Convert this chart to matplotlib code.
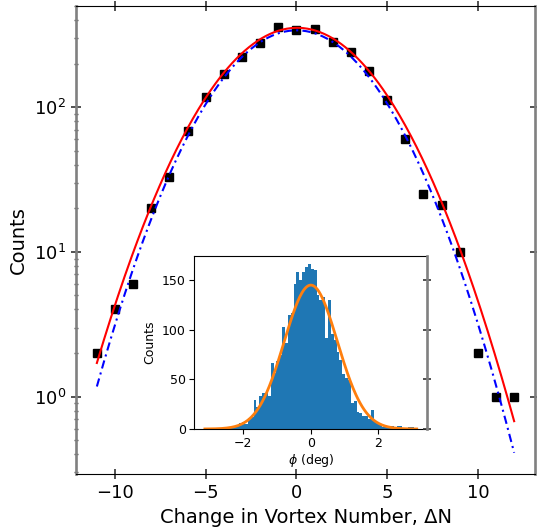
import numpy as np
import matplotlib
matplotlib.use("Agg")
import matplotlib.pyplot as plt

# change in vortex number and how many times each one was seen
delta_n = [-11, -10, -9, -8, -7, -6, -5, -4, -3, -2, -1, 0,
           1, 2, 3, 4, 5, 6, 7, 8, 9, 10, 11, 12]
n_counts = [2, 4, 6, 20, 33, 68, 118, 170, 221, 277, 357, 344,
            348, 281, 241, 178, 113, 60, 25, 21, 10, 2, 1, 1]

# gaussian fits: (amplitude, centre, width)
fit_red = (354, 0.04, 3.38)
fit_blue = (340, 0.01, 3.27)

# phase histogram (inset), 74 bins over [-pi, pi]
phi_edges = np.linspace(-np.pi, np.pi, 75)
phi_counts = [0, 0, 0, 0, 0, 0, 0,
              2, 2, 1, 2, 3, 6, 7, 5, 11, 12,
              29, 22, 33, 36, 36, 33, 66, 56, 69, 75,
              103, 87, 115, 117, 146, 158, 150, 158, 163, 166,
              161, 160, 135, 130, 133, 92, 130, 96, 90, 78,
              70, 55, 51, 49, 26, 28, 17, 16, 13, 13,
              10, 19, 7, 5, 5, 2, 2, 3, 3, 1, 3, 3, 1, 1, 2, 2, 0]
phi_fit = (145, 0.0, 0.79)


def gauss(x, amp, mu, sig):
    return amp * np.exp(-(x - mu) ** 2 / (2 * sig ** 2))


W, H = 537, 529
fig = plt.figure(figsize=(W / 100, H / 100), dpi=100)
ax = fig.add_axes([76 / W, 1 - 474 / H, 459 / W, 468 / H])

ax.plot(delta_n, n_counts, 's', color='k', ms=5.5, zorder=2)
xx = np.linspace(min(delta_n), max(delta_n), 300)
ax.plot(xx, gauss(xx, *fit_red), '-', color='red', lw=1.5, zorder=3)
ax.plot(xx, gauss(xx, *fit_blue), color='blue', lw=1.5,
        ls=(0, (4, 2, 1, 2)), zorder=3)
ax.set_yscale('log')

ax.set_xlabel('Change in Vortex Number, ΔN', fontsize=14)
ax.set_ylabel('Counts', fontsize=14)
ax.tick_params(which='major', direction='inout', length=7.5, width=1.2,
               color='#333333', labelsize=13, top=True, right=True)
ax.tick_params(which='minor', direction='inout', length=3, width=1,
               color='#555555', left=True, right=False)
ax.set_xticks([-10, -5, 0, 5, 10])
for side in ['left', 'right']:
    ax.spines[side].set_color('#808080')
    ax.spines[side].set_linewidth(1.9)

# inset with the phase distribution
axi = fig.add_axes([194.3 / W, 1 - 429 / H, 233 / W, 173 / H])
centers = (phi_edges[:-1] + phi_edges[1:]) / 2
axi.hist(centers, bins=phi_edges, weights=phi_counts, color='C0')
pp = np.linspace(-np.pi, np.pi, 300)
axi.plot(pp, gauss(pp, *phi_fit), color='C1', lw=2)
axi.set_xticks([-2, 0, 2])
axi.set_yticks([0, 50, 100, 150])
axi.set_xlabel(r'$\phi$ (deg)', fontsize=9, labelpad=1)
axi.set_ylabel('Counts', fontsize=9)
axi.tick_params(labelsize=9, pad=2.5)
axi.spines['right'].set_visible(False)

# right side of the inset: gray spine with inout ticks
twin = axi.twinx()
twin.set_ylim(axi.get_ylim())
twin.set_yticks([0, 50, 100, 150])
twin.tick_params(direction='inout', length=6, width=1.2, color='#333333',
                 labelright=False)
for side in ['left', 'top', 'bottom']:
    twin.spines[side].set_visible(False)
twin.spines['right'].set_color('#808080')
twin.spines['right'].set_linewidth(1.9)

fig.savefig('out.png', dpi=100)
